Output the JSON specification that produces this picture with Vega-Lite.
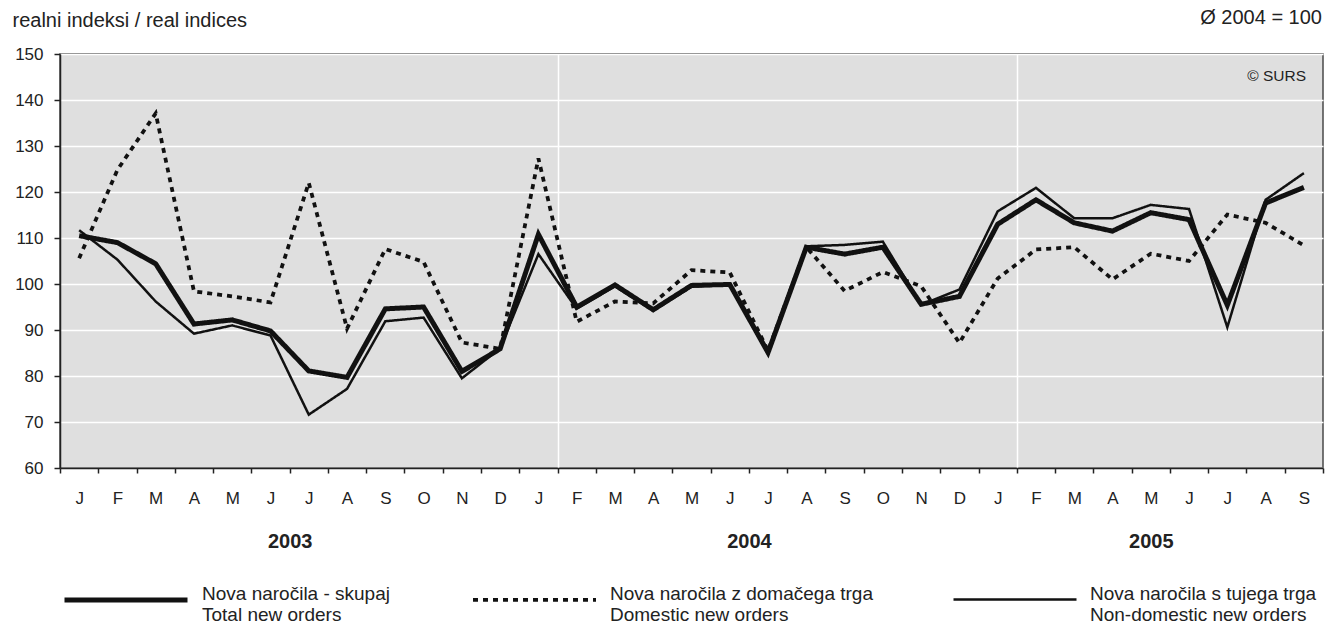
{
  "$schema": "https://vega.github.io/schema/vega-lite/v6.json",
  "width": 1263,
  "height": 414,
  "autosize": {"type": "none"},
  "padding": {"left": 60, "top": 54, "right": 13, "bottom": 158},
  "background": "white",
  "config": {
    "font": "Liberation Sans",
    "view": {"fill": "#dfdfdf", "stroke": "#4a4a4a", "strokeWidth": 1.5},
    "axis": {
      "labelFont": "Liberation Sans",
      "labelColor": "#222",
      "labelFontSize": 17,
      "domainColor": "#222",
      "domainWidth": 1.5,
      "tickColor": "#222",
      "tickWidth": 1.5,
      "gridColor": "white",
      "gridWidth": 1.5
    },
    "legend": {
      "labelFont": "Liberation Sans"
    }
  },
  "resolve": {"scale": {"x": "independent"}, "axis": {"x": "independent"}},
  "layer": [
    {
      "data": {
        "values": [
          {"m": "2003-01", "total": 110.5, "domestic": 105.6, "nondomestic": 111.7},
          {"m": "2003-02", "total": 109.0, "domestic": 124.8, "nondomestic": 105.3},
          {"m": "2003-03", "total": 104.4, "domestic": 137.1, "nondomestic": 96.2},
          {"m": "2003-04", "total": 91.3, "domestic": 98.4, "nondomestic": 89.2},
          {"m": "2003-05", "total": 92.2, "domestic": 97.3, "nondomestic": 91.0},
          {"m": "2003-06", "total": 89.8, "domestic": 96.0, "nondomestic": 88.8},
          {"m": "2003-07", "total": 81.1, "domestic": 122.0, "nondomestic": 71.6},
          {"m": "2003-08", "total": 79.7, "domestic": 90.3, "nondomestic": 77.2},
          {"m": "2003-09", "total": 94.6, "domestic": 107.6, "nondomestic": 91.9},
          {"m": "2003-10", "total": 95.0, "domestic": 104.8, "nondomestic": 92.7},
          {"m": "2003-11", "total": 81.0, "domestic": 87.3, "nondomestic": 79.5},
          {"m": "2003-12", "total": 85.9, "domestic": 85.9, "nondomestic": 86.0},
          {"m": "2004-01", "total": 110.8, "domestic": 127.3, "nondomestic": 106.5},
          {"m": "2004-02", "total": 95.0, "domestic": 91.8, "nondomestic": 94.6},
          {"m": "2004-03", "total": 99.8, "domestic": 96.2, "nondomestic": 99.5},
          {"m": "2004-04", "total": 94.4, "domestic": 95.8, "nondomestic": 94.2},
          {"m": "2004-05", "total": 99.7, "domestic": 103.0, "nondomestic": 99.4},
          {"m": "2004-06", "total": 99.9, "domestic": 102.5, "nondomestic": 99.8},
          {"m": "2004-07", "total": 85.1, "domestic": 85.5, "nondomestic": 84.8},
          {"m": "2004-08", "total": 108.0, "domestic": 108.0, "nondomestic": 108.2},
          {"m": "2004-09", "total": 106.5, "domestic": 98.5, "nondomestic": 108.5},
          {"m": "2004-10", "total": 108.0, "domestic": 102.6, "nondomestic": 109.2},
          {"m": "2004-11", "total": 95.6, "domestic": 99.5, "nondomestic": 95.5},
          {"m": "2004-12", "total": 97.3, "domestic": 87.2, "nondomestic": 98.8},
          {"m": "2005-01", "total": 113.0, "domestic": 101.2, "nondomestic": 115.8},
          {"m": "2005-02", "total": 118.3, "domestic": 107.5, "nondomestic": 120.9},
          {"m": "2005-03", "total": 113.3, "domestic": 108.0, "nondomestic": 114.3},
          {"m": "2005-04", "total": 111.5, "domestic": 101.0, "nondomestic": 114.3},
          {"m": "2005-05", "total": 115.5, "domestic": 106.6, "nondomestic": 117.2},
          {"m": "2005-06", "total": 114.0, "domestic": 105.0, "nondomestic": 116.3},
          {"m": "2005-07", "total": 95.4, "domestic": 115.1, "nondomestic": 90.6},
          {"m": "2005-08", "total": 117.6, "domestic": 113.3, "nondomestic": 118.3},
          {"m": "2005-09", "total": 121.0, "domestic": 108.4, "nondomestic": 124.1}
        ]
      },
      "transform": [{"fold": ["nondomestic", "domestic", "total"], "as": ["series", "value"]}],
      "mark": {"type": "line", "color": "#111", "strokeJoin": "miter", "strokeCap": "butt"},
      "encoding": {
        "x": {
          "field": "m",
          "type": "ordinal",
          "scale": {"type": "band", "paddingInner": 0, "paddingOuter": 0},
          "axis": {
            "title": null,
            "orient": "bottom",
            "tickBand": "extent",
            "tickSize": 5,
            "labelPadding": 17,
            "labelAngle": 0,
            "labelExpr": "substring('JFMAMJJASOND', toNumber(substring(datum.value, 5, 7)) - 1, toNumber(substring(datum.value, 5, 7)))",
            "grid": true,
            "gridOpacity": {"condition": {"test": "datum.value == '2004-01' || datum.value == '2005-01'", "value": 1}, "value": 0}
          }
        },
        "y": {
          "field": "value",
          "type": "quantitative",
          "scale": {"domain": [60, 150], "nice": false, "zero": false},
          "axis": {
            "values": [60, 70, 80, 90, 100, 110, 120, 130, 140, 150],
            "tickSize": 6,
            "labelPadding": 11,
            "grid": true,
            "title": "realni indeksi / real indices",
            "titleAngle": 0,
            "titleAlign": "left",
            "titleBaseline": "alphabetic",
            "titleX": -48,
            "titleY": -28,
            "titleFontSize": 20,
            "titleFontWeight": "normal",
            "titleColor": "#222",
            "titleFont": "Liberation Sans"
          }
        },
        "detail": {"field": "series"},
        "strokeWidth": {
          "field": "series",
          "type": "ordinal",
          "scale": {"domain": ["total", "domestic", "nondomestic"], "range": [5, 2.5, 1.5]},
          "legend": {
            "orient": "none",
            "legendX": 2,
            "legendY": 482,
            "direction": "horizontal",
            "title": null,
            "symbolType": "stroke",
            "symbolSize": 15129,
            "symbolStrokeColor": "#111",
            "labelFontSize": 19,
            "labelColor": "#222",
            "labelOffset": 12,
            "columnPadding": 75,
            "labelLimit": 400,
            "labelBaseline": "alphabetic",
            "labelExpr": "datum.value == 'total' ? ['Nova naročila - skupaj', 'Total new orders'] : datum.value == 'domestic' ? ['Nova naročila z domačega trga', 'Domestic new orders'] : ['Nova naročila s tujega trga', 'Non-domestic new orders']"
          }
        },
        "strokeDash": {
          "field": "series",
          "type": "ordinal",
          "scale": {"domain": ["total", "domestic", "nondomestic"], "range": [[1, 0], [5, 5], [1, 0]]},
          "legend": {
            "orient": "none",
            "legendX": 2,
            "legendY": 482,
            "direction": "horizontal",
            "title": null,
            "symbolType": "stroke",
            "symbolSize": 15129,
            "symbolStrokeColor": "#111",
            "labelFontSize": 19,
            "labelColor": "#222",
            "labelOffset": 12,
            "columnPadding": 75,
            "labelLimit": 400,
            "labelBaseline": "alphabetic",
            "labelExpr": "datum.value == 'total' ? ['Nova naročila - skupaj', 'Total new orders'] : datum.value == 'domestic' ? ['Nova naročila z domačega trga', 'Domestic new orders'] : ['Nova naročila s tujega trga', 'Non-domestic new orders']"
          }
        }
      }
    },
    {
      "data": {"values": [{"label": "© SURS"}]},
      "mark": {"type": "text", "align": "right", "baseline": "middle", "dx": -17, "dy": 22, "fontSize": 15.5, "color": "#222", "font": "Liberation Sans"},
      "encoding": {
        "x": {
          "datum": 33,
          "type": "quantitative",
          "scale": {"domain": [0, 33], "nice": false, "zero": false},
          "axis": {
            "orient": "bottom",
            "title": null,
            "values": [6, 18, 28.5],
            "labelExpr": "datum.value == 6 ? '2003' : datum.value == 18 ? '2004' : '2005'",
            "ticks": false,
            "tickSize": 0,
            "domain": false,
            "grid": false,
            "labelPadding": 63,
            "labelFontSize": 20,
            "labelFontWeight": "bold",
            "labelFlush": false,
            "labelOverlap": false
          }
        },
        "y": {"datum": 150, "type": "quantitative"},
        "text": {"field": "label"}
      }
    },
    {
      "data": {"values": [{"label": "Ø 2004 = 100"}]},
      "mark": {"type": "text", "align": "right", "baseline": "middle", "dx": -1, "dy": -36, "fontSize": 20, "color": "#222", "font": "Liberation Sans"},
      "encoding": {
        "x": {"datum": 33, "type": "quantitative", "scale": {"domain": [0, 33], "nice": false, "zero": false}, "axis": null},
        "y": {"datum": 150, "type": "quantitative"},
        "text": {"field": "label"}
      }
    }
  ]
}
